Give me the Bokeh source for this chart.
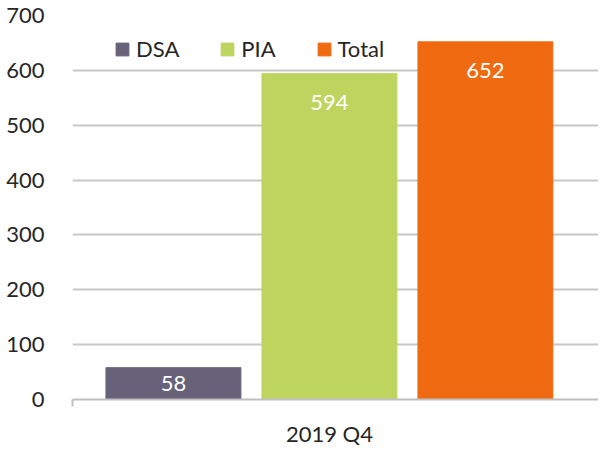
from bokeh.plotting import figure
from bokeh.models import ColumnDataSource, Range1d, FixedTicker, Legend, LegendItem
from bokeh.embed import file_html
from bokeh.resources import INLINE

categories = ["DSA", "PIA", "Total"]
values = [58, 594, 652]
colors = ["#67617A", "#BDD45E", "#EF6A11"]
group_label = "2019 Q4"
y_ticks = [0, 100, 200, 300, 400, 500, 600, 700]

FONT = "Lato"
TEXT = "#262626"
xs = list(range(len(categories)))
x_start, x_end = -0.647, 2.725
center = (xs[0] + xs[-1]) / 2
label_y = [max(v - 53, v / 2) for v in values]

src = ColumnDataSource(dict(x=xs, top=values, color=colors, cat=categories,
                            ly=label_y, txt=[str(v) for v in values]))

p = figure(width=598, height=449, x_range=Range1d(x_start, x_end),
           y_range=Range1d(0, 700), output_backend="svg", toolbar_location=None,
           min_border_left=72, min_border_right=0, min_border_top=15,
           min_border_bottom=48)
p.outline_line_color = None
p.background_fill_color = "white"

r = p.vbar(x="x", top="top", width=0.865, color="color", source=src)
p.text(x="x", y="ly", text="txt", source=src, text_color="white",
       text_font={"value": FONT}, text_font_size="22px", text_align="center",
       text_baseline="middle")

# y axis
p.yaxis.ticker = FixedTicker(ticks=y_ticks)
p.yaxis.axis_line_color = None
p.yaxis.major_tick_line_color = None
p.yaxis.minor_tick_line_color = None
p.yaxis.major_label_standoff = 22
p.yaxis.major_label_text_font = FONT
p.yaxis.major_label_text_font_size = "22px"
p.yaxis.major_label_text_color = TEXT

# x axis
p.xaxis.ticker = FixedTicker(ticks=[center], minor_ticks=[x_start])
p.xaxis.major_label_overrides = {center: group_label}
p.xaxis.axis_line_color = "#BFBFBF"
p.xaxis.axis_line_width = 2
p.xaxis.major_tick_line_color = None
p.xaxis.major_tick_out = 0
p.xaxis.minor_tick_line_color = "#BFBFBF"
p.xaxis.minor_tick_line_width = 2
p.xaxis.minor_tick_out = 7
p.xaxis.minor_tick_in = 0
p.xaxis.major_label_standoff = 13
p.xaxis.major_label_text_font = FONT
p.xaxis.major_label_text_font_size = "22px"
p.xaxis.major_label_text_color = TEXT

p.xgrid.grid_line_color = None
p.ygrid.ticker = FixedTicker(ticks=y_ticks)
p.ygrid.grid_line_color = "#C8C8C8"
p.ygrid.grid_line_width = 2

items = [LegendItem(label=c, renderers=[r], index=i) for i, c in enumerate(categories)]
legend = Legend(items=items, location=(42, 337), orientation="horizontal",
                border_line_color=None, background_fill_alpha=0,
                glyph_width=16, glyph_height=16, label_standoff=6, spacing=40,
                padding=0, margin=0, label_text_font=FONT,
                label_text_font_size="22px", label_text_color=TEXT)
p.add_layout(legend)

open("out.html", "w").write(file_html(p, INLINE))
